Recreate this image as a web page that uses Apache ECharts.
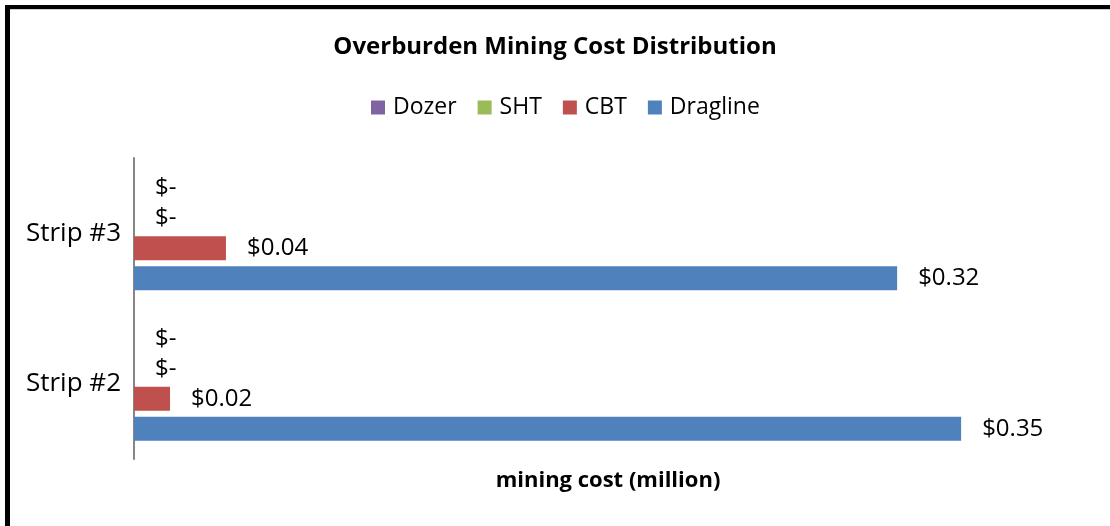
<!DOCTYPE html>
<html>
<head>
<meta charset="utf-8">
<script src="https://cdn.jsdelivr.net/npm/echarts@6/dist/echarts.min.js"></script>
<style>
  html, body { margin: 0; padding: 0; background: #fff; }
  #chart { width: 1110px; height: 526px; }
</style>
</head>
<body>
<div id="chart"></div>
<script>
// categories bottom -> top
var strips = ['Strip #2', 'Strip #3'];
var seriesNames = ['Dozer', 'SHT', 'CBT', 'Dragline'];
var dozer = [0, 0];
var sht = [0, 0];
var cbt = [0.0152, 0.0388];
var dragline = [0.349, 0.322];
var colors = ['#8064A2', '#9BBB59', '#C0504D', '#4F81BD'];

var font = 'Open Sans';

function money(p) {
  if (p.value === 0) return '$-';
  return '$' + p.value.toFixed(2);
}

var valuesList = [dozer, sht, cbt, dragline];
var series = seriesNames.map(function (name, i) {
  return {
    name: name,
    type: 'bar',
    data: valuesList[i],
    barWidth: 24,
    barGap: '25%',
    itemStyle: { color: colors[i] },
    label: {
      show: true,
      position: 'right',
      distance: 21,
      formatter: money,
      color: '#000',
      fontFamily: font,
      fontSize: 24
    }
  };
});

var chart = echarts.init(document.getElementById('chart'));
var option = {
  animation: false,
  backgroundColor: '#fff',
  title: {
    text: 'Overburden Mining Cost Distribution',
    left: 'center',
    top: 30,
    textStyle: { fontFamily: font, fontWeight: 'bold', fontSize: 24, color: '#000' }
  },
  legend: {
    data: seriesNames,
    top: 91,
    left: 366,
    itemWidth: 14,
    itemHeight: 14,
    itemGap: 21,
    icon: 'rect',
    textStyle: { fontFamily: font, fontSize: 23, color: '#000', padding: [0, 0, 0, 3] }
  },
  grid: { left: 134, right: 28, top: 158, bottom: 67 },
  xAxis: {
    type: 'value',
    min: 0,
    max: 0.4,
    name: 'mining cost (million)',
    nameLocation: 'middle',
    nameGap: 11,
    nameTextStyle: { fontFamily: font, fontWeight: 'bold', fontSize: 22, color: '#000' },
    axisLine: { show: false },
    axisTick: { show: false },
    axisLabel: { show: false },
    splitLine: { show: false }
  },
  yAxis: {
    type: 'category',
    data: strips,
    axisLine: { lineStyle: { color: '#868686', width: 2 } },
    axisTick: { show: false },
    axisLabel: { fontFamily: font, fontSize: 26, color: '#000', margin: 13 }
  },
  graphic: [
    { type: 'rect', shape: { x: 5, y: 5, width: 1105, height: 4 }, style: { fill: '#000' } },
    { type: 'rect', shape: { x: 5, y: 5, width: 5, height: 521 }, style: { fill: '#000' } },
    { type: 'rect', shape: { x: 10, y: 9, width: 1100, height: 1 }, style: { fill: '#cfcfcf' } }
  ],
  series: series
};
chart.setOption(option);
</script>
</body>
</html>
